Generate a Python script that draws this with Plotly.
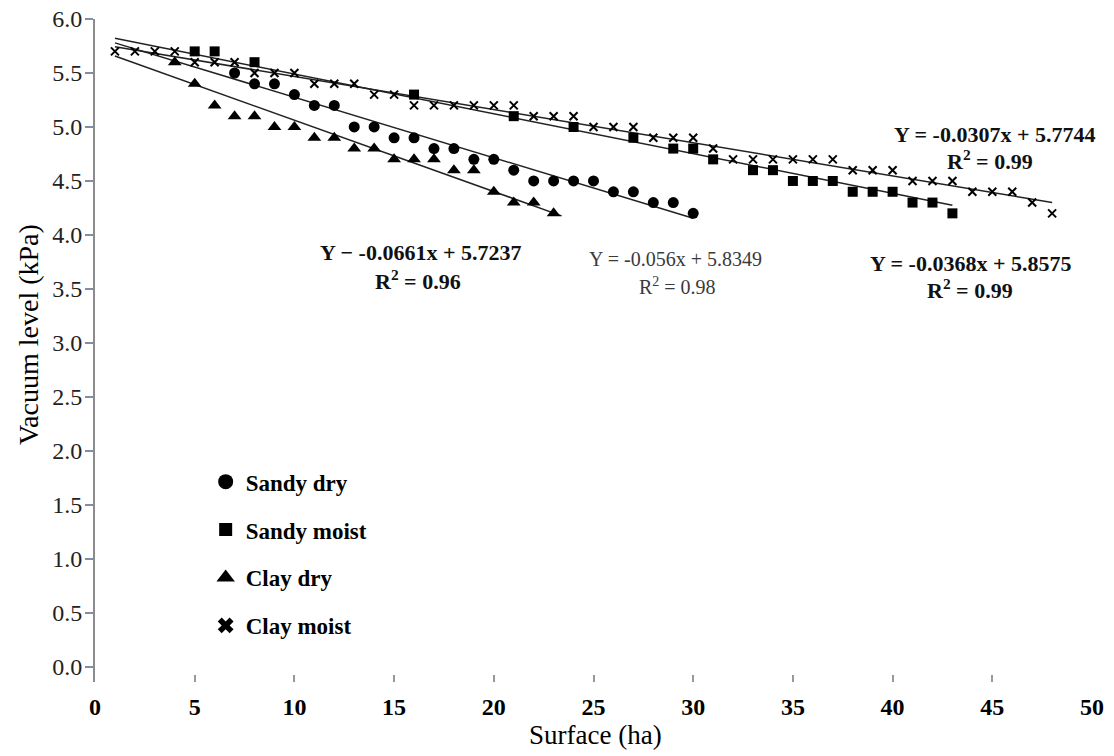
import plotly.graph_objects as go

# ---------------- data ----------------
sandy_dry_x = [7, 8, 9, 10, 11, 12, 13, 14, 15, 16, 17, 18, 19, 20, 21, 22, 23, 24, 25, 26, 27, 28, 29, 30]
sandy_dry_y = [5.5, 5.4, 5.4, 5.3, 5.2, 5.2, 5.0, 5.0, 4.9, 4.9, 4.8, 4.8, 4.7, 4.7, 4.6, 4.5, 4.5, 4.5, 4.5, 4.4, 4.4, 4.3, 4.3, 4.2]

sandy_moist_x = [5, 6, 8, 16, 21, 24, 27, 29, 30, 31, 33, 34, 35, 36, 37, 38, 39, 40, 41, 42, 43]
sandy_moist_y = [5.7, 5.7, 5.6, 5.3, 5.1, 5.0, 4.9, 4.8, 4.8, 4.7, 4.6, 4.6, 4.5, 4.5, 4.5, 4.4, 4.4, 4.4, 4.3, 4.3, 4.2]

clay_dry_x = [4, 5, 6, 7, 8, 9, 10, 11, 12, 13, 14, 15, 16, 17, 18, 19, 20, 21, 22, 23]
clay_dry_y = [5.6, 5.4, 5.2, 5.1, 5.1, 5.0, 5.0, 4.9, 4.9, 4.8, 4.8, 4.7, 4.7, 4.7, 4.6, 4.6, 4.4, 4.3, 4.3, 4.2]

clay_moist_x = list(range(1, 49))
clay_moist_y = [5.7, 5.7, 5.7, 5.7, 5.6, 5.6, 5.6, 5.5, 5.5, 5.5,
                5.4, 5.4, 5.4, 5.3, 5.3, 5.2, 5.2, 5.2, 5.2, 5.2,
                5.2, 5.1, 5.1, 5.1, 5.0, 5.0, 5.0, 4.9, 4.9, 4.9,
                4.8, 4.7, 4.7, 4.7, 4.7, 4.7, 4.7, 4.6, 4.6, 4.6,
                4.5, 4.5, 4.5, 4.4, 4.4, 4.4, 4.3, 4.2]

series_names = ["Sandy dry", "Sandy moist", "Clay dry", "Clay moist"]

# trendline coefficients (slope, intercept) and x extents as stated on chart
trend_slope = [-0.056, -0.0368, -0.0661, -0.0307]
trend_intercept = [5.8349, 5.8575, 5.7237, 5.7744]
trend_x_start = [1, 1, 1, 1]
trend_x_end = [30, 43, 23.4, 48]

eq_texts = ["Y = -0.056x + 5.8349", "Y = -0.0368x + 5.8575",
            "Y \u2212 -0.0661x + 5.7237", "Y = -0.0307x + 5.7744"]
r2_texts = ["R<sup>2</sup> = 0.98", "R<sup>2</sup> = 0.99",
            "R<sup>2</sup> = 0.96", "R<sup>2</sup> = 0.99"]
eq_pos_x = [29.1, 43.9, 16.3, 45.1]
eq_pos_y = [3.78, 3.74, 3.84, 4.93]
r2_pos_x = [29.2, 43.9, 16.2, 44.9]
r2_pos_y = [3.53, 3.50, 3.58, 4.69]
eq_sizes = [20, 22, 22, 22]

x_ticks = [0, 5, 10, 15, 20, 25, 30, 35, 40, 45, 50]
y_ticks = [0.0, 0.5, 1.0, 1.5, 2.0, 2.5, 3.0, 3.5, 4.0, 4.5, 5.0, 5.5, 6.0]

FONT = "Liberation Serif"

fig = go.Figure()

# trendlines
for s, b, x0, x1 in zip(trend_slope, trend_intercept, trend_x_start, trend_x_end):
    fig.add_trace(go.Scatter(
        x=[x0, x1], y=[s * x0 + b, s * x1 + b], mode="lines",
        line=dict(color="#222222", width=1.5), showlegend=False, hoverinfo="skip"))

# data markers
fig.add_trace(go.Scatter(x=sandy_dry_x, y=sandy_dry_y, mode="markers",
                         marker=dict(symbol="circle", size=11, color="black"), showlegend=False))
fig.add_trace(go.Scatter(x=sandy_moist_x, y=sandy_moist_y, mode="markers",
                         marker=dict(symbol="square", size=10, color="black"), showlegend=False))
fig.add_trace(go.Scatter(x=clay_dry_x, y=clay_dry_y, mode="markers",
                         marker=dict(symbol="triangle-up", size=12, color="black"), showlegend=False))
fig.add_trace(go.Scatter(x=clay_moist_x, y=clay_moist_y, mode="markers",
                         marker=dict(symbol="x-thin", size=8, color="black",
                                     line=dict(color="black", width=2)), showlegend=False))

# legend entries
legend_symbols = ["circle", "square", "triangle-up", "x"]
legend_sizes = [15, 13, 16, 14]
for i, (nm, sym, sz) in enumerate(zip(series_names, legend_symbols, legend_sizes)):
    fig.add_trace(go.Scatter(x=[None], y=[None], mode="markers", name=nm,
                             legendgroup=f"g{i}",
                             marker=dict(symbol=sym, size=sz, color="black")))

# equation annotations
for i in range(4):
    bold = i != 0
    f = dict(family=FONT, size=eq_sizes[i], color="#111111" if bold else "#3a3a3a",
             weight="bold" if bold else "normal")
    fig.add_annotation(x=eq_pos_x[i], y=eq_pos_y[i], xref="x", yref="y", text=eq_texts[i],
                       showarrow=False, xanchor="center", yanchor="middle", font=f)
    fig.add_annotation(x=r2_pos_x[i], y=r2_pos_y[i], xref="x", yref="y", text=r2_texts[i],
                       showarrow=False, xanchor="center", yanchor="middle", font=f)

# axis titles (placed as annotations in paper coords)
fig.add_annotation(x=(595 - 95) / 997, y=(682 - 735) / 663, xref="paper", yref="paper",
                   text="Surface (ha)", showarrow=False, xanchor="center", yanchor="middle",
                   font=dict(family=FONT, size=27, color="black"))
fig.add_annotation(x=(28 - 95) / 997, y=(682 - 335) / 663, xref="paper", yref="paper",
                   text="Vacuum level (kPa)", showarrow=False, textangle=-90,
                   xanchor="center", yanchor="middle",
                   font=dict(family=FONT, size=28, color="black"))

fig.update_layout(
    width=1114, height=756,
    margin=dict(l=95, r=22, t=19, b=74, autoexpand=False),
    paper_bgcolor="white", plot_bgcolor="white",
    font=dict(family=FONT, color="black"),
    showlegend=True,
    legend=dict(x=0.111, y=0.3345, xanchor="left", yanchor="top",
                bgcolor="rgba(0,0,0,0)", tracegroupgap=15,
                font=dict(family=FONT, size=23, color="black", weight="bold"),
                itemsizing="trace"),
    xaxis=dict(range=[0, 50], tickvals=x_ticks, ticktext=[str(v) for v in x_ticks],
               showline=False, showgrid=False, zeroline=False, automargin=False,
               ticks="inside", ticklen=7, tickwidth=2, tickcolor="#999999",
               ticklabelstandoff=8, ticklabeloverflow="allow",
               tickfont=dict(family=FONT, size=24, color="black", weight="bold")),
    yaxis=dict(range=[-0.14, 6.0], tickvals=y_ticks, ticktext=[f"{v:.1f}" for v in y_ticks],
               showline=True, linecolor="#8c8c8c", linewidth=2,
               showgrid=False, zeroline=False, automargin=False,
               ticks="outside", ticklen=8, tickwidth=2, tickcolor="#7f8fa8",
               ticklabelstandoff=-2, ticklabeloverflow="allow",
               tickfont=dict(family=FONT, size=24, color="#222222")),
)

# remove the default 8px page margin so the figure fills the window exactly
fig.write_html("out.html", config={"displayModeBar": False},
               post_script="document.body.style.margin='0';document.body.style.overflow='hidden';")
